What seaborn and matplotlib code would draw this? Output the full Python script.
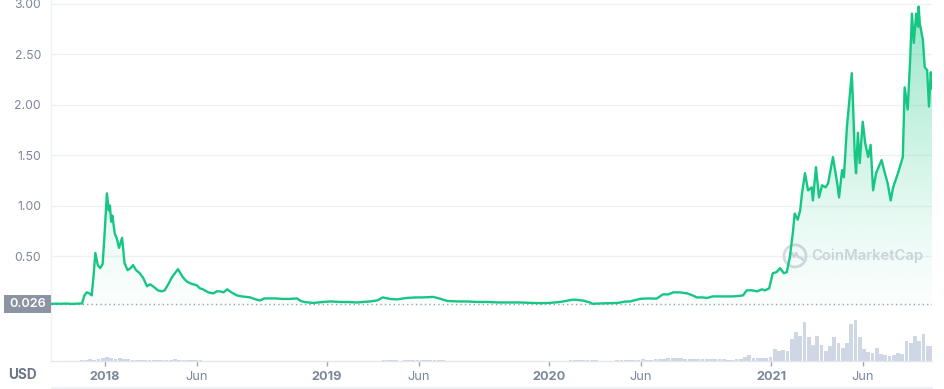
import matplotlib
matplotlib.use('Agg')
import matplotlib.pyplot as plt
import matplotlib.dates as mdates
from matplotlib.colors import to_rgb
from matplotlib.lines import Line2D
from matplotlib.patches import Rectangle, Ellipse
import seaborn as sns
import numpy as np
import pandas as pd

# price in USD
price_dates = [
    '2017-10-04', '2017-10-12', '2017-10-20', '2017-10-29', '2017-11-07', '2017-11-16', '2017-11-24',
    '2017-11-28', '2017-12-02', '2017-12-06', '2017-12-10', '2017-12-13', '2017-12-16', '2017-12-20',
    '2017-12-24', '2017-12-28', '2017-12-31',
    '2018-01-04', '2018-01-07', '2018-01-09', '2018-01-11', '2018-01-13', '2018-01-17', '2018-01-20',
    '2018-01-24', '2018-01-29', '2018-02-02', '2018-02-07', '2018-02-12', '2018-02-16', '2018-02-21',
    '2018-02-27', '2018-03-05', '2018-03-11', '2018-03-16', '2018-03-21', '2018-03-29', '2018-04-04',
    '2018-04-09', '2018-04-15', '2018-04-21', '2018-04-26', '2018-05-01', '2018-05-05', '2018-05-09',
    '2018-05-15', '2018-05-21', '2018-05-26', '2018-06-01', '2018-06-06', '2018-06-11', '2018-06-20',
    '2018-06-28', '2018-07-04', '2018-07-09', '2018-07-15', '2018-07-21', '2018-07-28', '2018-08-06',
    '2018-08-14', '2018-08-28', '2018-09-06', '2018-09-13', '2018-09-20', '2018-09-25', '2018-10-08',
    '2018-10-20', '2018-11-01', '2018-11-13', '2018-11-19', '2018-11-25', '2018-12-09', '2018-12-18',
    '2018-12-26',
    '2019-01-08', '2019-01-23', '2019-02-06', '2019-02-20', '2019-03-01', '2019-03-13', '2019-03-25',
    '2019-04-03', '2019-04-15', '2019-04-26', '2019-05-13', '2019-05-28', '2019-06-08', '2019-06-25',
    '2019-07-05', '2019-07-18', '2019-08-05', '2019-08-20', '2019-09-05', '2019-09-22', '2019-10-10',
    '2019-10-29', '2019-11-15', '2019-12-06', '2019-12-20',
    '2020-01-01', '2020-01-15', '2020-01-25', '2020-02-10', '2020-02-18', '2020-02-27', '2020-03-09',
    '2020-03-13', '2020-03-26', '2020-04-10', '2020-04-23', '2020-05-05', '2020-05-14', '2020-05-30',
    '2020-06-10', '2020-06-27', '2020-07-07', '2020-07-16', '2020-07-24', '2020-08-04', '2020-08-16',
    '2020-08-25', '2020-09-01', '2020-09-10', '2020-09-18', '2020-09-27', '2020-10-09', '2020-10-20',
    '2020-10-30', '2020-11-10', '2020-11-16', '2020-11-22', '2020-12-01', '2020-12-09', '2020-12-17',
    '2020-12-22', '2020-12-29',
    '2021-01-04', '2021-01-10', '2021-01-16', '2021-01-22', '2021-01-27', '2021-02-01', '2021-02-06',
    '2021-02-09', '2021-02-14', '2021-02-18', '2021-02-21', '2021-02-26', '2021-03-03', '2021-03-09',
    '2021-03-11', '2021-03-16', '2021-03-21', '2021-03-26', '2021-04-01', '2021-04-05', '2021-04-13',
    '2021-04-20', '2021-04-23', '2021-04-28', '2021-05-01', '2021-05-06', '2021-05-11', '2021-05-14',
    '2021-05-16', '2021-05-19', '2021-05-21', '2021-05-24', '2021-05-27', '2021-06-01', '2021-06-05',
    '2021-06-10', '2021-06-14', '2021-06-18', '2021-06-23', '2021-07-02', '2021-07-07', '2021-07-12',
    '2021-07-17', '2021-07-21', '2021-07-29', '2021-08-06', '2021-08-09', '2021-08-14', '2021-08-18',
    '2021-08-21', '2021-08-24', '2021-08-28', '2021-08-31', '2021-09-01', '2021-09-03', '2021-09-08',
    '2021-09-11', '2021-09-15', '2021-09-18', '2021-09-21', '2021-09-23',
]
price_usd = [
    0.026, 0.028, 0.027, 0.029, 0.026, 0.028, 0.030,
    0.11, 0.14, 0.13, 0.11, 0.30, 0.53, 0.41,
    0.38, 0.42, 0.70,
    1.12, 0.95, 1.00, 0.84, 0.90, 0.72, 0.68,
    0.58, 0.68, 0.43, 0.36, 0.38, 0.41, 0.36,
    0.33, 0.28, 0.20, 0.22, 0.20, 0.16, 0.15,
    0.16, 0.22, 0.29, 0.33, 0.37, 0.33, 0.29,
    0.25, 0.23, 0.22, 0.21, 0.18, 0.17, 0.14,
    0.13, 0.15, 0.15, 0.14, 0.17, 0.14, 0.11,
    0.10, 0.09, 0.07, 0.06, 0.08, 0.08, 0.08,
    0.075, 0.075, 0.08, 0.055, 0.045, 0.035, 0.04,
    0.045,
    0.05, 0.045, 0.044, 0.04, 0.045, 0.05, 0.06,
    0.09, 0.075, 0.07, 0.085, 0.09, 0.09, 0.095,
    0.08, 0.055, 0.05, 0.05, 0.045, 0.045, 0.04,
    0.04, 0.04, 0.035, 0.033,
    0.035, 0.042, 0.05, 0.068, 0.065, 0.058, 0.04,
    0.027, 0.03, 0.033, 0.035, 0.048, 0.05, 0.075,
    0.08, 0.078, 0.12, 0.12, 0.14, 0.14, 0.13,
    0.11, 0.09, 0.09, 0.085, 0.10, 0.10, 0.10,
    0.10, 0.105, 0.11, 0.16, 0.16, 0.15, 0.17,
    0.16, 0.18,
    0.33, 0.34, 0.38, 0.33, 0.34, 0.49, 0.73,
    0.92, 0.86, 0.95, 1.12, 1.32, 1.15, 1.18,
    1.05, 1.38, 1.08, 1.20, 1.18, 1.22, 1.48,
    1.22, 1.08, 1.35, 1.28, 1.78, 2.11, 2.31,
    2.01, 1.48, 1.32, 1.72, 1.42, 1.83, 1.62,
    1.48, 1.60, 1.15, 1.32, 1.45, 1.33, 1.22,
    1.05, 1.18, 1.32, 1.48, 2.17, 1.95, 2.44,
    2.90, 2.61, 2.90, 2.77, 2.97, 2.80, 2.64,
    2.37, 2.34, 1.98, 2.32, 2.16,
]

# weekly volume (billion USD), weeks starting 2017-10-02
volume_start = '2017-10-02'
vol_2017 = [0.02, 0.02, 0.03, 0.02, 0.03, 0.03, 0.04, 0.35, 0.5, 0.6, 0.5, 0.7, 0.9]
vol_2018 = [1.4, 1.0, 0.8, 0.9, 0.6, 0.7, 0.5, 0.4, 0.35, 0.3, 0.3, 0.25, 0.25,
            0.2, 0.25, 0.5, 0.6, 0.5, 0.4, 0.3, 0.25, 0.2, 0.2, 0.15, 0.15, 0.12,
            0.12, 0.12, 0.15, 0.12, 0.1, 0.1, 0.08, 0.08, 0.08, 0.1, 0.08, 0.08, 0.07,
            0.06, 0.06, 0.05, 0.06, 0.05, 0.05, 0.08, 0.1, 0.06, 0.05, 0.05, 0.04, 0.05, 0.04]
vol_2019 = [0.04, 0.04, 0.04, 0.04, 0.05, 0.05, 0.05, 0.06, 0.06, 0.07, 0.07, 0.08,
            0.25, 0.3, 0.2, 0.18, 0.15, 0.35, 0.4, 0.45, 0.3, 0.3, 0.35, 0.4, 0.45,
            0.3, 0.2, 0.15, 0.12, 0.1, 0.1, 0.1, 0.08, 0.08, 0.07, 0.07, 0.08, 0.07, 0.06,
            0.06, 0.06, 0.06, 0.06, 0.07, 0.06, 0.06, 0.05, 0.05, 0.05, 0.04, 0.04, 0.04]
vol_2020 = [0.06, 0.08, 0.1, 0.12, 0.35, 0.4, 0.3, 0.25, 0.3, 0.35, 0.25, 0.15, 0.1,
            0.12, 0.15, 0.2, 0.3, 0.35, 0.4, 0.45, 0.5, 0.55, 0.5, 0.45, 0.6, 0.6,
            0.8, 0.9, 0.9, 1.0, 0.9, 0.8, 0.8, 0.7, 0.6, 0.7, 0.7, 0.6, 0.55,
            0.55, 0.6, 0.5, 0.5, 0.55, 0.7, 1.6, 2.2, 1.2, 1.0, 0.9, 1.2, 1.5]
vol_2021 = [4.2, 3.5, 3.9, 3.5, 7.7, 10.5, 9.1, 14.0, 8.4, 5.6, 9.1, 5.6, 3.5,
            5.3, 8.4, 6.3, 4.6, 6.3, 13.3, 14.7, 8.4, 4.2, 3.2, 2.8, 4.6, 2.5,
            2.1, 1.8, 2.1, 2.8, 2.5, 7.0, 6.3, 8.8, 7.0, 9.8, 5.3, 5.3]

tick_dates = ['2018-01-01', '2018-06-01', '2019-01-01', '2019-06-01',
              '2020-01-01', '2020-06-01', '2021-01-01', '2021-06-01']
tick_labels = ['2018', 'Jun', '2019', 'Jun', '2020', 'Jun', '2021', 'Jun']
ytick_values = [0, 0.5, 1.0, 1.5, 2.0, 2.5, 3.0]
start_price = 0.026

GREEN = '#16c784'
GRID = '#eff2f5'
LABEL = '#7d879a'

W, H = 944, 389
sns.set_theme(style='white')
plt.rcParams['font.family'] = ['Inter', 'DejaVu Sans']

fig = plt.figure(figsize=(W / 100, H / 100), dpi=100)
left, right = 51, 932
ax = fig.add_axes([left / W, 1 - 306.5 / H, (right - left) / W, 306.5 / H])
vax = fig.add_axes([left / W, 1 - 361 / H, (right - left) / W, 54 / H])

df = pd.DataFrame({'date': pd.to_datetime(price_dates), 'price': price_usd})
ymax = 3.035

# price line
sns.lineplot(data=df, x='date', y='price', ax=ax, color=GREEN, lw=1.7, zorder=5)

# gradient fill under the line
poly = ax.fill_between(df['date'], df['price'], 0, facecolor='none', edgecolor='none')
xnum = mdates.date2num(df['date'])
levels = np.linspace(0, ymax, 256)
rgba = np.zeros((256, 1, 4))
rgba[..., :3] = to_rgb(GREEN)
rgba[..., 0, 3] = np.clip(0.02 + 0.43 * (levels / 3.0) ** 1.3, 0, 1)
im = ax.imshow(rgba, extent=[xnum[0], xnum[-1], 0, ymax], origin='lower',
               aspect='auto', zorder=2, interpolation='bilinear')
im.set_clip_path(poly.get_paths()[0], transform=ax.transData)

ax.axhline(start_price, color='#9aa1b1', lw=1, ls=(0, (1, 2.2)), zorder=3)

xl = (pd.Timestamp('2017-10-04'), pd.Timestamp('2021-09-23'))
ax.set_xlim(xl)
ax.set_ylim(0, ymax)
ax.set_yticks(ytick_values)
ax.set_yticklabels([''] + [f'{v:.2f}' for v in ytick_values[1:]])
ax.set_xticks([])
ax.set_xlabel('')
ax.set_ylabel('')
ax.yaxis.grid(True, color=GRID, lw=1)
ax.xaxis.grid(False)
ax.tick_params(axis='y', length=0, pad=7.2, labelsize=8.8, labelcolor=LABEL)
for s in ['top', 'right', 'bottom']:
    ax.spines[s].set_visible(False)
ax.spines['left'].set_color(GRID)
ax.spines['left'].set_linewidth(1)

# watermark
ax.add_patch(Ellipse((0.8445, 0.165), 22 / (right - left), 22 / 306.5, transform=ax.transAxes,
                     facecolor='none', edgecolor='#d5d9e1', lw=2, zorder=1))
wx = np.array([-6, -3, -1, 1, 3, 6, 8]) / (right - left) + 0.8445
wy = np.array([-4, 3, -1, 3, -1, -2, -4]) / 306.5 + 0.165
ax.plot(wx, wy, transform=ax.transAxes, color='#d5d9e1', lw=1.8, zorder=1)
ax.text(0.863, 0.165, 'CoinMarketCap', transform=ax.transAxes, color='#d2d6de',
        fontsize=10.7, fontweight='semibold', ha='left', va='center', zorder=1)

# volume bars
vol = np.concatenate([vol_2017, vol_2018, vol_2019, vol_2020, vol_2021])
vdates = pd.date_range(volume_start, periods=len(vol), freq='7D')
vax.bar(vdates, vol, width=6.2, color='#cfd6e4', linewidth=0, align='edge')
vax.set_xlim(xl)
vax.set_ylim(0, 19.3)
vax.set_yticks([])
vax.set_xticks(pd.to_datetime(tick_dates))
vax.set_xticklabels(tick_labels)
vax.tick_params(axis='x', bottom=True, length=3.5, width=1, color='#a1a7bb',
                pad=4, labelsize=9.2, labelcolor=LABEL)
for lab in vax.get_xticklabels():
    if lab.get_text().isdigit():
        lab.set_fontweight('bold')
for s in ['top', 'right']:
    vax.spines[s].set_visible(False)
vax.spines['left'].set_color(GRID)
vax.spines['bottom'].set_color('#e3e6ec')
vax.spines['left'].set_linewidth(1)
vax.spines['bottom'].set_linewidth(1)

# current-price box on the left
yb = fig.transFigure.inverted().transform(ax.transData.transform((xnum[0], start_price)))[1]
fig.add_artist(Rectangle((4 / W, yb - 9 / H), 47 / W, 18 / H, transform=fig.transFigure,
                         facecolor='#8c93a3', edgecolor='none'))
fig.text(27.5 / W, yb, '0.026', color='white', fontsize=9.2, fontweight='semibold',
         ha='center', va='center')
fig.text(22 / W, 1 - 375 / H, 'USD', color='#6c7689', fontsize=9.8, fontweight='bold',
         ha='center', va='center')
fig.add_artist(Line2D([52 / W, 932 / W], [1 - 387.5 / H] * 2, transform=fig.transFigure,
                      color='#eef1f8', lw=1.5))

fig.savefig('out.png', dpi=100)
